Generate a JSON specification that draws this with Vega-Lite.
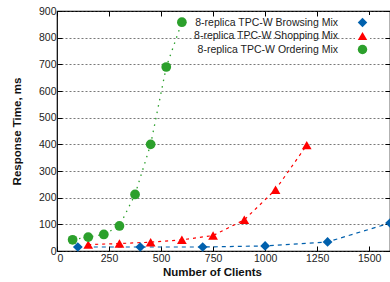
{
  "$schema": "https://vega.github.io/schema/vega-lite/v6.json",
  "width": 333,
  "height": 240,
  "autosize": "none",
  "padding": {"left": 57, "top": 11, "right": 0, "bottom": 31},
  "config": {
    "font": "Liberation Sans",
    "view": {"stroke": "black", "strokeWidth": 1.2},
    "axis": {"labelFontSize": 10.5, "labelColor": "#222", "titleFontSize": 11.5, "titleFontWeight": "bold", "titleColor": "#111", "domain": false, "grid": false, "tickColor": "#000", "tickSize": -5, "tickWidth": 1, "format": "d"}
  },
  "data": {"values": [
    {"series": "8-replica TPC-W Browsing Mix", "clients": 100, "rt": 15},
    {"series": "8-replica TPC-W Browsing Mix", "clients": 400, "rt": 15},
    {"series": "8-replica TPC-W Browsing Mix", "clients": 700, "rt": 15},
    {"series": "8-replica TPC-W Browsing Mix", "clients": 1000, "rt": 19},
    {"series": "8-replica TPC-W Browsing Mix", "clients": 1300, "rt": 34},
    {"series": "8-replica TPC-W Browsing Mix", "clients": 1600, "rt": 105},
    {"series": "8-replica TPC-W Shopping Mix", "clients": 150, "rt": 24},
    {"series": "8-replica TPC-W Shopping Mix", "clients": 300, "rt": 28},
    {"series": "8-replica TPC-W Shopping Mix", "clients": 450, "rt": 33},
    {"series": "8-replica TPC-W Shopping Mix", "clients": 600, "rt": 42},
    {"series": "8-replica TPC-W Shopping Mix", "clients": 750, "rt": 58},
    {"series": "8-replica TPC-W Shopping Mix", "clients": 900, "rt": 117},
    {"series": "8-replica TPC-W Shopping Mix", "clients": 1050, "rt": 230},
    {"series": "8-replica TPC-W Shopping Mix", "clients": 1200, "rt": 397},
    {"series": "8-replica TPC-W Ordering Mix", "clients": 75, "rt": 42},
    {"series": "8-replica TPC-W Ordering Mix", "clients": 150, "rt": 52},
    {"series": "8-replica TPC-W Ordering Mix", "clients": 225, "rt": 62},
    {"series": "8-replica TPC-W Ordering Mix", "clients": 300, "rt": 94},
    {"series": "8-replica TPC-W Ordering Mix", "clients": 375, "rt": 212},
    {"series": "8-replica TPC-W Ordering Mix", "clients": 450, "rt": 400},
    {"series": "8-replica TPC-W Ordering Mix", "clients": 525, "rt": 690},
    {"series": "8-replica TPC-W Ordering Mix", "clients": 600, "rt": 858}
  ]},
  "layer": [
    {
      "transform": [{"filter": "datum.series == '8-replica TPC-W Browsing Mix'"}],
      "mark": {"type": "line", "strokeWidth": 1.2, "strokeDash": [4, 4], "color": "#0060ad"},
      "encoding": {
        "x": {"field": "clients", "type": "quantitative", "scale": {"domain": [0, 1600], "nice": false},
              "axis": {"orient": "bottom", "values": [0, 250, 500, 750, 1000, 1250, 1500], "title": "Number of Clients", "titleX": 155, "titlePadding": 3, "labelPadding": 7, "grid": false}},
        "y": {"field": "rt", "type": "quantitative", "scale": {"domain": [0, 900], "nice": false},
              "axis": {"orient": "left", "values": [0, 100, 200, 300, 400, 500, 600, 700, 800, 900], "title": "Response Time, ms", "titlePadding": 16, "labelPadding": 6, "grid": true, "gridDash": [2, 2], "gridColor": "#444", "gridWidth": 0.8, "gridOpacity": 0.9}}
      }
    },
    {
      "transform": [{"filter": "datum.series == '8-replica TPC-W Shopping Mix'"}],
      "mark": {"type": "line", "strokeWidth": 1.2, "strokeDash": [3, 4], "color": "#ff0000"},
      "encoding": {
        "x": {"field": "clients", "type": "quantitative", "axis": null},
        "y": {"field": "rt", "type": "quantitative", "axis": null}
      }
    },
    {
      "transform": [{"filter": "datum.series == '8-replica TPC-W Ordering Mix'"}],
      "mark": {"type": "line", "strokeWidth": 1.3, "strokeDash": [1.5, 5], "color": "#2ca02c"},
      "encoding": {
        "x": {"field": "clients", "type": "quantitative", "axis": null},
        "y": {"field": "rt", "type": "quantitative", "axis": null}
      }
    },
    {
      "mark": {"type": "point", "filled": true, "opacity": 1, "size": 95},
      "encoding": {
        "x": {"field": "clients", "type": "quantitative", "axis": {"orient": "top", "values": [0, 250, 500, 750, 1000, 1250, 1500], "labels": false, "title": null, "grid": false}},
        "y": {"field": "rt", "type": "quantitative", "axis": {"orient": "right", "labels": false, "title": null, "grid": false, "values": [0, 100, 200, 300, 400, 500, 600, 700, 800, 900]}},
        "color": {"field": "series", "type": "nominal",
                  "scale": {"domain": ["8-replica TPC-W Browsing Mix", "8-replica TPC-W Shopping Mix", "8-replica TPC-W Ordering Mix"], "range": ["#0060ad", "#ff0000", "#2ca02c"]},
                  "legend": {"title": null, "orient": "none", "legendX": 298, "legendY": 4, "labelAlign": "right", "labelOffset": -30, "labelFontSize": 10.5, "labelColor": "#222", "rowPadding": 2.5, "fillColor": "white", "padding": 2, "symbolSize": 90}},
        "shape": {"field": "series", "type": "nominal",
                  "scale": {"domain": ["8-replica TPC-W Browsing Mix", "8-replica TPC-W Shopping Mix", "8-replica TPC-W Ordering Mix"], "range": ["diamond", "triangle-up", "circle"]}}
      }
    }
  ],
  "resolve": {"axis": {"x": "independent", "y": "independent"}}
}
